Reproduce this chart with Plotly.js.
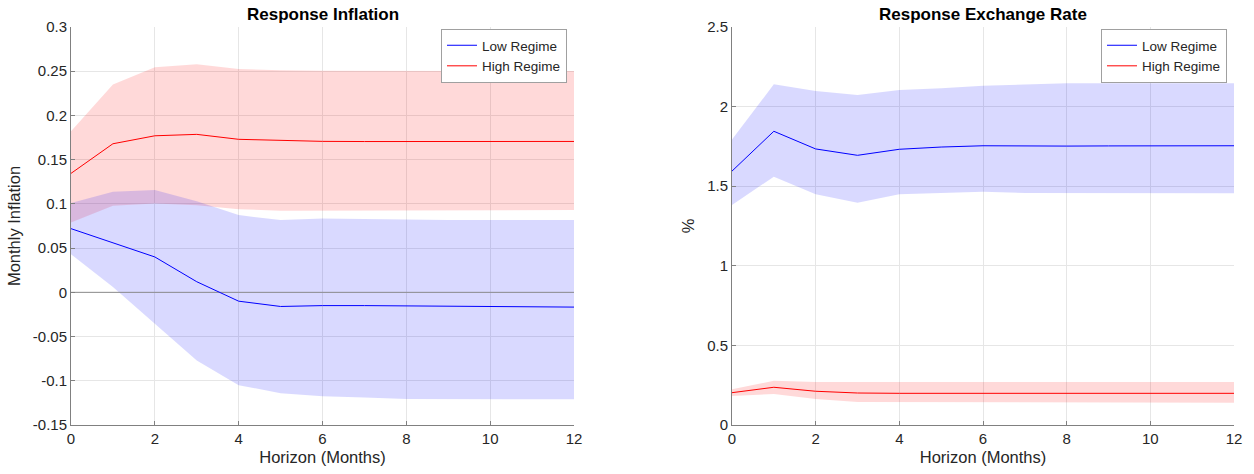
<!DOCTYPE html>
<html>
<head>
<meta charset="utf-8">
<script src="https://cdn.plot.ly/plotly-3.0.1.min.js"></script>
<style>html,body{margin:0;padding:0;background:#fff;}#chart{width:1254px;height:474px;}</style>
</head>
<body>
<div id="chart"></div>
<script>
// Horizon (months)
const horizon = [0,1,2,3,4,5,6,7,8,9,10,11,12];

// Response Inflation
const inflLow      = [0.072, 0.056, 0.040, 0.012, -0.010, -0.016, -0.015, -0.015, -0.0155, -0.016, -0.0163, -0.0165, -0.0167];
const inflLowUp    = [0.101, 0.1137, 0.1156, 0.103, 0.0873, 0.0817, 0.0836, 0.083, 0.0817, 0.0817, 0.0817, 0.0817, 0.0817];
const inflLowLo    = [0.043, 0.006, -0.035, -0.077, -0.105, -0.114, -0.1175, -0.119, -0.1205, -0.1205, -0.121, -0.121, -0.121];
const inflHigh     = [0.1345, 0.168, 0.177, 0.1786, 0.173, 0.1718, 0.1707, 0.1705, 0.1705, 0.1705, 0.1706, 0.1706, 0.1706];
const inflHighUp   = [0.182, 0.235, 0.2544, 0.258, 0.2525, 0.251, 0.2506, 0.2503, 0.2502, 0.2502, 0.2502, 0.2502, 0.2502];
const inflHighLo   = [0.079, 0.098, 0.1005, 0.0986, 0.094, 0.0922, 0.093, 0.093, 0.093, 0.093, 0.093, 0.093, 0.093];

// Response Exchange Rate
const fxLow        = [1.595, 1.845, 1.734, 1.694, 1.732, 1.746, 1.754, 1.752, 1.752, 1.753, 1.754, 1.754, 1.754];
const fxLowUp      = [1.794, 2.140, 2.098, 2.073, 2.104, 2.115, 2.131, 2.140, 2.146, 2.146, 2.146, 2.146, 2.146];
const fxLowLo      = [1.382, 1.560, 1.449, 1.396, 1.449, 1.459, 1.465, 1.458, 1.455, 1.455, 1.455, 1.455, 1.455];
const fxHigh       = [0.203, 0.237, 0.212, 0.201, 0.199, 0.199, 0.199, 0.199, 0.199, 0.199, 0.199, 0.199, 0.199];
const fxHighUp     = [0.224, 0.278, 0.270, 0.270, 0.270, 0.270, 0.270, 0.270, 0.270, 0.270, 0.270, 0.270, 0.270];
const fxHighLo     = [0.182, 0.195, 0.163, 0.144, 0.140, 0.140, 0.140, 0.140, 0.140, 0.140, 0.140, 0.140, 0.140];

const xTicks = [0,2,4,6,8,10,12];
const inflTickVals = [-0.15,-0.1,-0.05,0,0.05,0.1,0.15,0.2,0.25,0.3];
const inflTickText = ["-0.15","-0.1","-0.05","0","0.05","0.1","0.15","0.2","0.25","0.3"];
const fxTickVals = [0,0.5,1,1.5,2,2.5];
const fxTickText = ["0","0.5","1","1.5","2","2.5"];

const titles = ["Response Inflation", "Response Exchange Rate"];
const yTitles = ["Monthly Inflation", "%"];
const xTitle = "Horizon (Months)";
const seriesNames = ["Low Regime", "High Regime"];

const BLUE = "#0000ff", RED = "#ff0000";
const BLUE_FILL = "rgba(0,0,255,0.15)", RED_FILL = "rgba(255,0,0,0.15)";

function band(up, lo, xa, ya, color) {
  return {
    x: horizon.concat(horizon.slice().reverse()),
    y: up.concat(lo.slice().reverse()),
    xaxis: xa, yaxis: ya, type: "scatter", mode: "lines",
    fill: "toself", fillcolor: color, line: {width: 0, color: "rgba(0,0,0,0)"},
    showlegend: false, hoverinfo: "skip"
  };
}
function line(y, xa, ya, color, name, legend) {
  return {x: horizon, y: y, xaxis: xa, yaxis: ya, type: "scatter", mode: "lines",
    line: {color: color, width: 1}, name: name, legend: legend};
}

const traces = [
  band(inflHighUp, inflHighLo, "x", "y", RED_FILL),
  band(inflLowUp, inflLowLo, "x", "y", BLUE_FILL),
  {x: [horizon[0], horizon[horizon.length-1]], y: [0, 0], xaxis: "x", yaxis: "y", type: "scatter", mode: "lines",
   line: {color: "#8c8c8c", width: 1}, showlegend: false, hoverinfo: "skip"},
  line(inflLow, "x", "y", BLUE, seriesNames[0], "legend"),
  line(inflHigh, "x", "y", RED, seriesNames[1], "legend"),
  band(fxLowUp, fxLowLo, "x2", "y2", BLUE_FILL),
  band(fxHighUp, fxHighLo, "x2", "y2", RED_FILL),
  line(fxLow, "x2", "y2", BLUE, seriesNames[0], "legend2"),
  line(fxHigh, "x2", "y2", RED, seriesNames[1], "legend2")
];

const FONT = "Liberation Sans, Arial, Helvetica, sans-serif";
const TXT = "#262626";
const GRID = "#e6e6e6";
const AX = "#808080";

function xaxis(domain, anchor) {
  return {domain: domain, anchor: anchor, range: [0, 12], tickvals: xTicks, ticktext: xTicks.map(String),
    showgrid: true, gridcolor: GRID, gridwidth: 1, zeroline: false,
    showline: true, linecolor: AX, linewidth: 1, ticks: "inside", ticklen: 4, tickcolor: AX,
    tickfont: {family: FONT, size: 15, color: TXT},
    title: {text: xTitle, font: {family: FONT, size: 16.5, color: TXT}, standoff: 5}};
}
function yaxis(range, tv, tt, anchor, title) {
  return {domain: [0, 1], anchor: anchor, range: range, tickvals: tv, ticktext: tt,
    showgrid: true, gridcolor: GRID, gridwidth: 1, zeroline: false,
    showline: true, linecolor: AX, linewidth: 1, ticks: "inside", ticklen: 4, tickcolor: AX,
    tickfont: {family: FONT, size: 15, color: TXT},
    title: {text: title, font: {family: FONT, size: 16.5, color: TXT}, standoff: 8}};
}

const dom1 = [71/1254, 574/1254], dom2 = [732/1254, 1234/1254];

const legendStyle = (x) => ({x: x, y: 0.995, xanchor: "right", yanchor: "top",
  bgcolor: "#ffffff", bordercolor: "#a0a0a0", borderwidth: 1,
  font: {family: FONT, size: 13.5, color: TXT}, tracegroupgap: 0, itemwidth: 30});

const layout = {
  width: 1254, height: 474,
  margin: {l: 0, r: 0, t: 27, b: 49},
  paper_bgcolor: "#ffffff", plot_bgcolor: "#ffffff",
  font: {family: FONT, color: TXT},
  xaxis: xaxis(dom1, "y"),
  yaxis: yaxis([-0.15, 0.3], inflTickVals, inflTickText, "x", yTitles[0]),
  xaxis2: xaxis(dom2, "y2"),
  yaxis2: yaxis([0, 2.5], fxTickVals, fxTickText, "x2", yTitles[1]),
  legend: legendStyle(567/1254),
  legend2: legendStyle(1227/1254),
  annotations: [
    {text: "<b>" + titles[0] + "</b>", x: (dom1[0]+dom1[1])/2, y: 1, xref: "paper", yref: "paper",
     xanchor: "center", yanchor: "bottom", yshift: 1, showarrow: false, font: {family: FONT, size: 17, color: "#000"}},
    {text: "<b>" + titles[1] + "</b>", x: (dom2[0]+dom2[1])/2, y: 1, xref: "paper", yref: "paper",
     xanchor: "center", yanchor: "bottom", yshift: 1, showarrow: false, font: {family: FONT, size: 17, color: "#000"}}
  ],
  showlegend: true
};

Plotly.newPlot("chart", traces, layout, {displayModeBar: false, staticPlot: true});
</script>
</body>
</html>
